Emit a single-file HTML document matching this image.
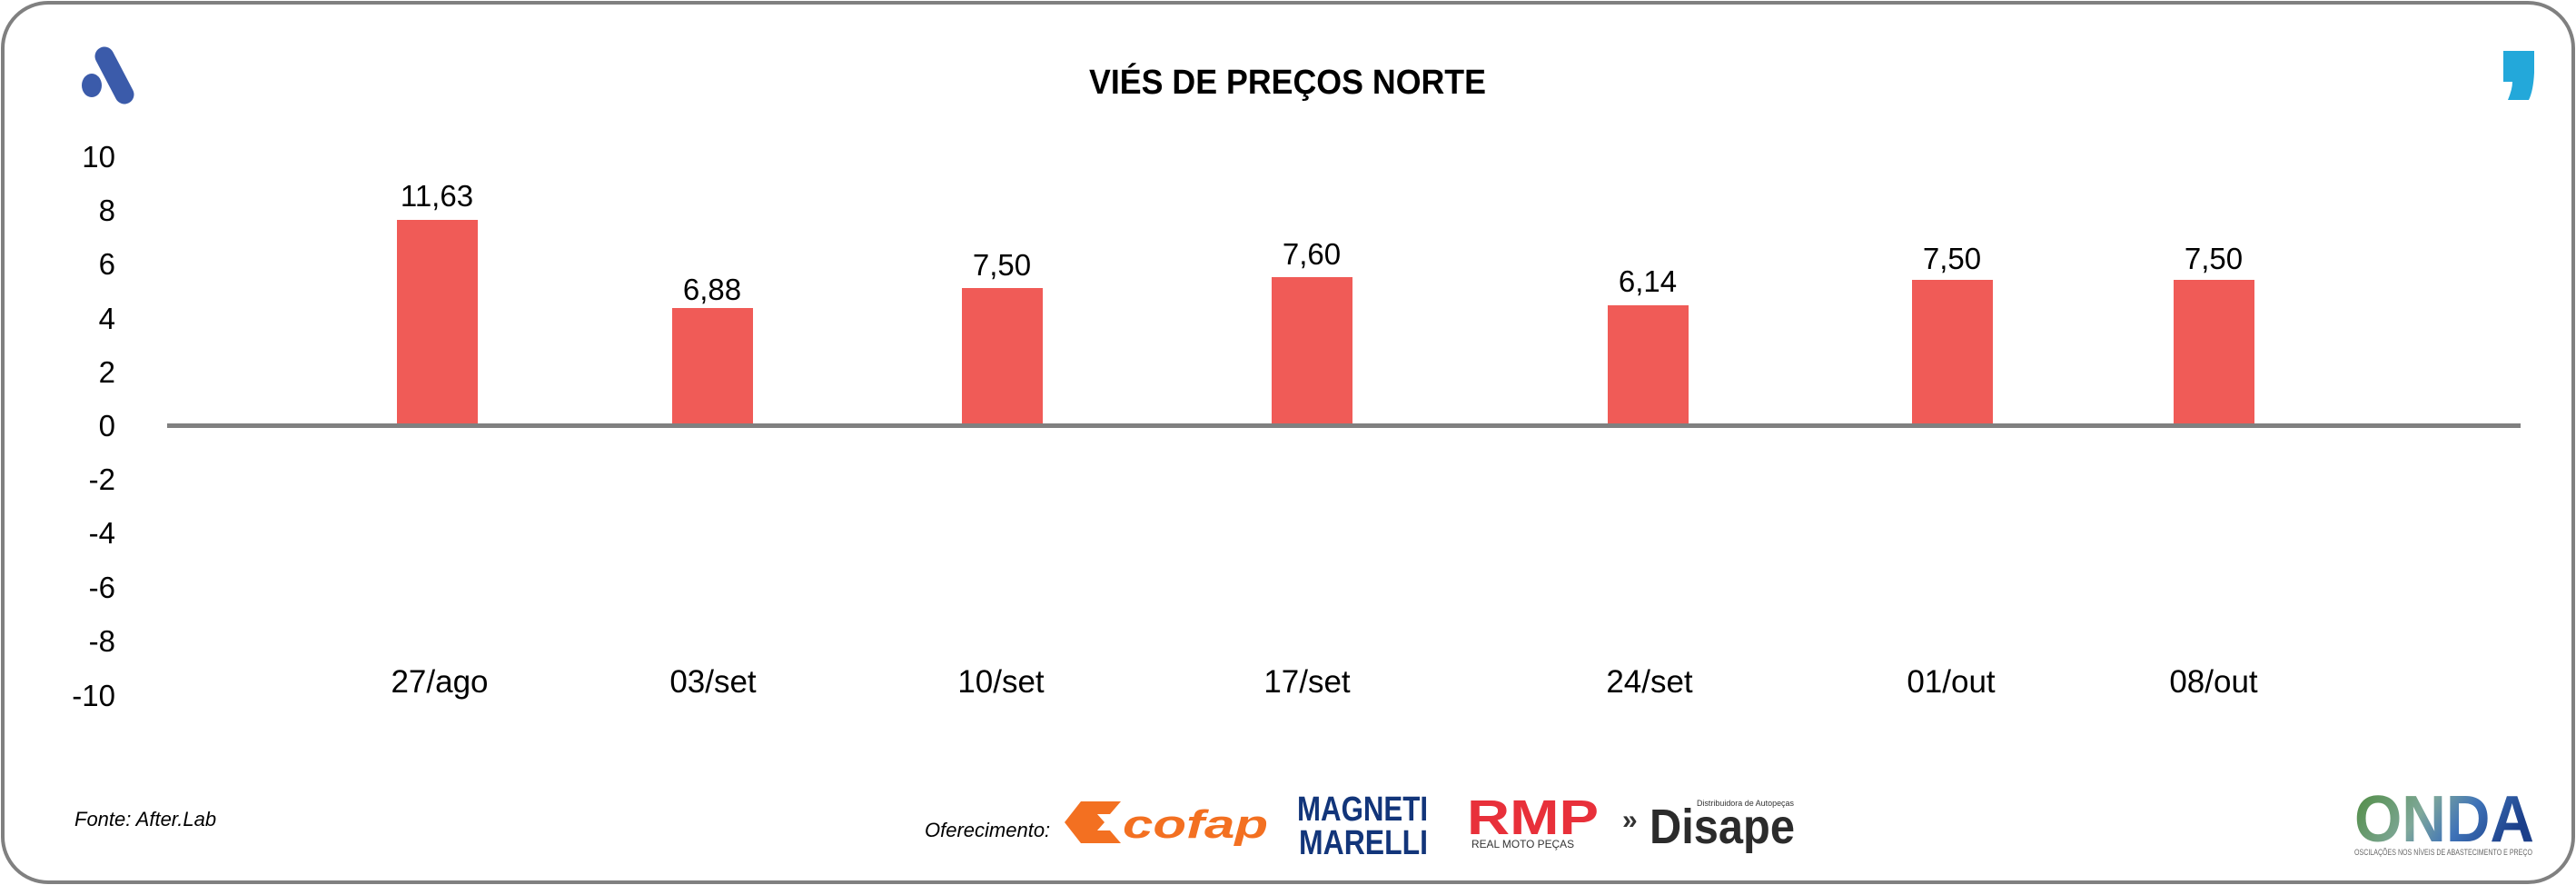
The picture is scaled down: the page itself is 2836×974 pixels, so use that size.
<!DOCTYPE html>
<html><head><meta charset="utf-8"><style>
html,body{margin:0;padding:0;background:#fff}
svg{display:block}
text{font-family:"Liberation Sans",sans-serif}
</style></head><body>
<svg width="2836" height="974" viewBox="0 0 2836 974" xmlns="http://www.w3.org/2000/svg">
<defs>
<linearGradient id="og" x1="0" y1="0" x2="1" y2="0.3">
<stop offset="0" stop-color="#4c8a3a"/><stop offset="0.45" stop-color="#7fa89a"/><stop offset="0.7" stop-color="#3f73b8"/><stop offset="1" stop-color="#1c3f8a"/>
</linearGradient>
</defs>
<rect x="3" y="3" width="2830" height="968" rx="50" ry="50" fill="#fff" stroke="#808080" stroke-width="4"/>
<line x1="115" y1="62" x2="137" y2="104" stroke="#3B5BAA" stroke-width="21" stroke-linecap="round"/>
<ellipse cx="101" cy="94" rx="11" ry="13" fill="#3B5BAA"/>
<path d="M2756 56 L2790 56 L2790 80 Q2789 100 2784 110 L2761 110 Q2766 98 2766 90 L2756 90 Z" fill="#23A8DA"/>
<text x="1199" y="103" font-size="38" font-weight="bold" textLength="437" lengthAdjust="spacingAndGlyphs">VIÉS DE PREÇOS NORTE</text>
<g font-size="33" text-anchor="end" fill="#000">
<text x="127" y="184">10</text><text x="127" y="243">8</text><text x="127" y="302">6</text><text x="127" y="362">4</text><text x="127" y="421">2</text><text x="127" y="480">0</text><text x="127" y="539">-2</text><text x="127" y="598">-4</text><text x="127" y="658">-6</text><text x="127" y="717">-8</text><text x="127" y="777">-10</text>
</g>
<g fill="#F05B57">
<rect x="437" y="242" width="89" height="227"/>
<rect x="740" y="339" width="89" height="130"/>
<rect x="1059" y="317" width="89" height="152"/>
<rect x="1400" y="305" width="89" height="164"/>
<rect x="1770" y="336" width="89" height="133"/>
<rect x="2105" y="308" width="89" height="161"/>
<rect x="2393" y="308" width="89" height="161"/>
</g>
<rect x="184" y="466" width="2591" height="5" fill="#808080"/>
<g font-size="33" text-anchor="middle">
<text x="481" y="227">11,63</text><text x="784" y="330">6,88</text><text x="1103" y="303">7,50</text><text x="1444" y="291">7,60</text><text x="1814" y="321">6,14</text><text x="2149" y="296">7,50</text><text x="2437" y="296">7,50</text>
</g>
<g font-size="35" text-anchor="middle">
<text x="484" y="762">27/ago</text><text x="785" y="762">03/set</text><text x="1102" y="762">10/set</text><text x="1439" y="762">17/set</text><text x="1816" y="762">24/set</text><text x="2148" y="762">01/out</text><text x="2437" y="762">08/out</text>
</g>
<text x="82" y="909" font-size="22" font-style="italic">Fonte: After.Lab</text>
<text x="1018" y="921" font-size="22" font-style="italic">Oferecimento:</text>
<path d="M1190 882 L1234 882 L1222 896 L1208 896 L1216 905 L1208 914 L1222 914 L1234 928 L1190 928 L1172 905 Z" fill="#F37021"/>
<text x="1236" y="922" font-size="44" font-weight="bold" font-style="italic" fill="#F37021" textLength="160" lengthAdjust="spacingAndGlyphs">cofap</text>
<text x="1428" y="903" font-size="38" font-weight="bold" fill="#12357A" textLength="144" lengthAdjust="spacingAndGlyphs">MAGNETI</text>
<text x="1430" y="940" font-size="38" font-weight="bold" fill="#12357A" textLength="142" lengthAdjust="spacingAndGlyphs">MARELLI</text>
<text x="1615" y="918" font-size="54" font-weight="bold" fill="#E8303A" textLength="145" lengthAdjust="spacingAndGlyphs">RMP</text>
<text x="1620" y="933" font-size="12" fill="#333" textLength="113" lengthAdjust="spacingAndGlyphs">REAL MOTO PEÇAS</text>
<text x="1786" y="912" font-size="30" font-weight="bold" fill="#333">»</text>
<text x="1816" y="928" font-size="54" font-weight="bold" fill="#2b2b2b" textLength="160" lengthAdjust="spacingAndGlyphs">Disape</text>
<text x="1868" y="887" font-size="9" fill="#333" textLength="107" lengthAdjust="spacingAndGlyphs">Distribuidora de Autopeças</text>
<text x="2592" y="926" font-size="72" font-weight="bold" fill="url(#og)" textLength="198" lengthAdjust="spacingAndGlyphs">ONDA</text>
<text x="2592" y="941" font-size="9" fill="#666" textLength="196" lengthAdjust="spacingAndGlyphs">OSCILAÇÕES NOS NÍVEIS DE ABASTECIMENTO E PREÇO</text>
</svg>
</body></html>
